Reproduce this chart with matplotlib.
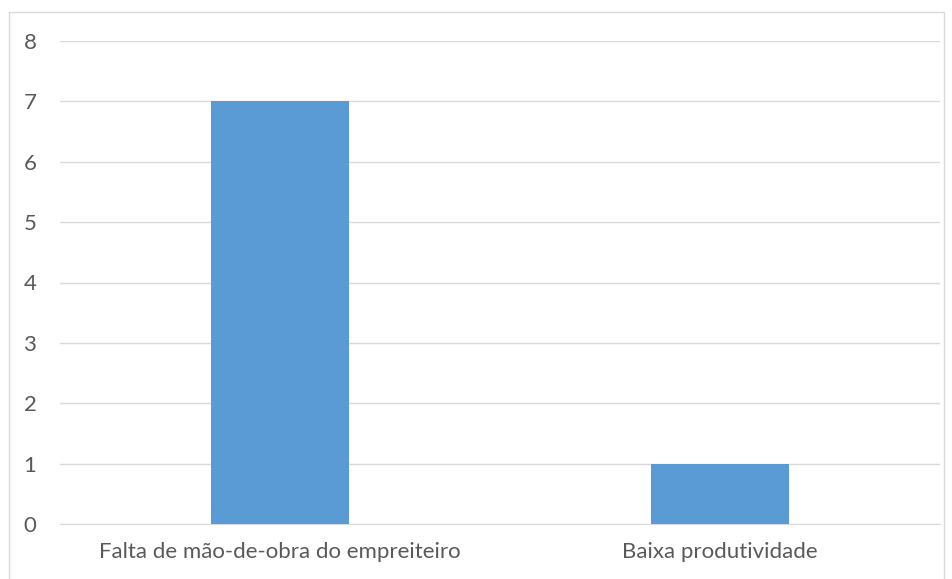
import matplotlib
matplotlib.use("Agg")
from matplotlib import pyplot as plt
from matplotlib.patches import Rectangle

categories = ["Falta de mão-de-obra do empreiteiro", "Baixa produtividade"]
values = [7, 1]
y_ticks = [0, 1, 2, 3, 4, 5, 6, 7, 8]

BAR_COLOR = "#5B9BD5"
TEXT_COLOR = "#595959"
GRID_COLOR = "#D9D9D9"

plt.rcParams["font.family"] = ["Lato", "DejaVu Sans"]

fig = plt.figure(figsize=(9.52, 5.79), dpi=100)
ax = fig.add_axes([60 / 952, 55 / 579, 880 / 952, 483 / 579])

x = list(range(len(categories)))
ax.bar(x, values, width=0.313, color=BAR_COLOR, zorder=3)

ax.set_xlim(-0.5, 1.5)
ax.set_ylim(0, 8)
ax.set_yticks(y_ticks)
ax.set_xticks(x)
ax.set_xticklabels(categories)
ax.grid(axis="y", color=GRID_COLOR, linewidth=1, zorder=0)
ax.tick_params(axis="both", length=0, labelsize=16, colors=TEXT_COLOR)
ax.tick_params(axis="y", pad=17)
ax.tick_params(axis="x", pad=13)
for side in ["top", "right", "left"]:
    ax.spines[side].set_visible(False)
ax.spines["bottom"].set_color(GRID_COLOR)

# chart border
fig.patches.append(Rectangle((8.5 / 952, -0.01), 935 / 952, 1 - 12 / 579 + 0.01,
                             transform=fig.transFigure, fill=False,
                             edgecolor=GRID_COLOR, linewidth=1))

fig.savefig("out.png", dpi=100)
